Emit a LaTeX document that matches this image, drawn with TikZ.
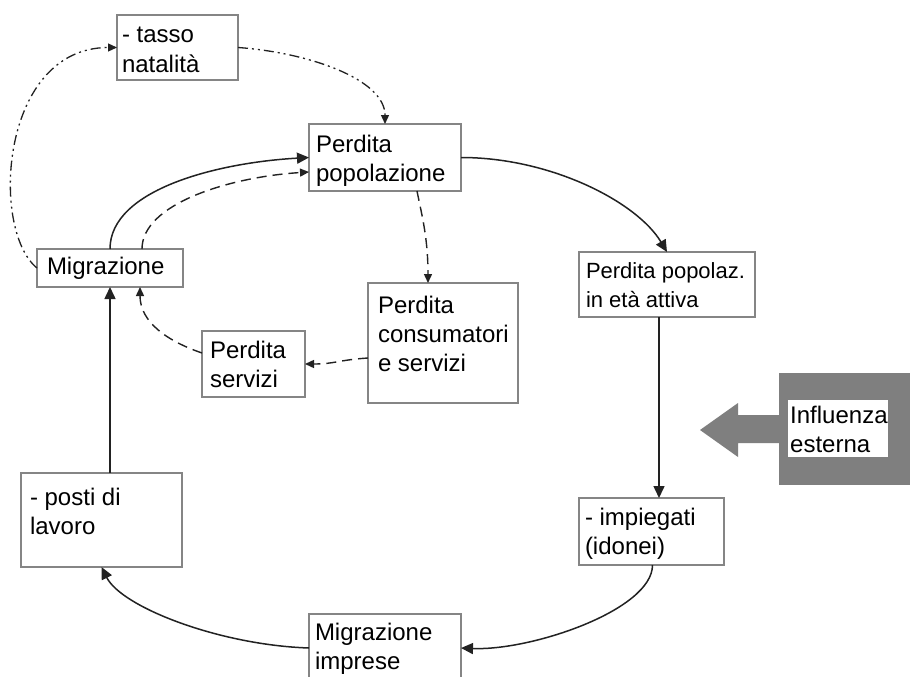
\documentclass[tikz,border=0pt]{standalone}
\usepackage{fontspec}
\setmainfont{Liberation Sans}
\usetikzlibrary{arrows.meta}
\definecolor{boxgray}{HTML}{858585}
\definecolor{linek}{HTML}{222222}
\definecolor{infgray}{HTML}{7F7F7F}
% #1 name, #2 x, #3 y, #4 w, #5 h, #6 left pad, #7 first baseline, #8 font size, #9 text
\newcommand\bx[9]{\node[box, minimum width=#4pt, minimum height=#5pt] (#1) at (#2,#3)
  {\parbox[t][#5pt][t]{#4pt}{\fontsize{#8}{29}\selectfont\raggedright\leftskip=#6pt\rule{0pt}{#7pt}#9}};}
\begin{document}
\begin{tikzpicture}[x=1pt,y=-1pt,
  box/.style={draw=boxgray,line width=1.3pt,inner sep=0pt,outer sep=0pt,anchor=north west,fill=white},
  conn/.style={draw=linek,line width=1.5pt,-{Triangle[length=12pt,width=11pt]}},
  dashconn/.style={draw=linek,line width=1.4pt,dash pattern=on 10pt off 6pt,-{Triangle[length=9pt,width=8pt]}},
  dotconn/.style={draw=linek,line width=1.3pt,dash pattern=on 10pt off 4pt on 2pt off 4pt on 2pt off 4pt,-{Triangle[length=9pt,width=8pt]}}]
\useasboundingbox (0,0) rectangle (910,677);
\fill[white] (0,0) rectangle (910,677);

\bx{tas}{117}{15}{121}{65}{5}{28}{24}{- tasso\\natalità}
\bx{pp}{309}{124}{152}{67}{7}{28}{24}{Perdita\\popolazione}
\bx{mig}{37}{249}{146}{38}{10}{25}{24}{Migrazione}
\bx{att}{579}{252}{176}{65}{7}{26}{22}{Perdita popolaz.\\in età attiva}
\bx{cons}{368}{283}{150}{120}{10}{30}{24}{Perdita\\consumatori\\e servizi}
\bx{serv}{202}{331}{103}{66}{8}{27}{24}{Perdita\\servizi}
\bx{posti}{21}{473}{161}{94}{9}{32}{24}{- posti di\\lavoro}
\bx{imp}{579}{498}{145}{67}{6}{27}{24}{- impiegati\\(idonei)}
\bx{mimp}{309}{614}{152}{68}{6}{26}{24}{Migrazione\\imprese}

% external influence
\node[fill=infgray,inner sep=0pt,anchor=north west,minimum width=140pt,minimum height=112pt] (inflbg) at (779,373) {};
\node[fill=white,inner sep=0pt,anchor=north west,minimum width=100pt,minimum height=57pt] (infl) at (788,400)
  {\parbox[t][57pt][t]{100pt}{\fontsize{24}{29}\selectfont\raggedright\leftskip=2pt\rule{0pt}{23pt}Influenza\\esterna}};
\fill[infgray] (700,430) -- (738,403) -- (738,415) -- (780,415) -- (780,443) -- (738,443) -- (738,457) -- cycle;

% main cycle
\draw[conn] (pp.east) .. controls +(90,0) and +(-30,-50) .. (att.north);
\draw[conn] ([xshift=-8pt]att.south) -- ([xshift=-8pt]att.south |- imp.north);
\draw[conn] ([xshift=1pt]imp.south) .. controls +(0,45) and +(70,3) .. (mimp.east);
\draw[conn] (mimp.west) .. controls +(-90,-3) and +(20,40) .. (posti.south);
\draw[conn] (mig.south |- posti.north) -- (mig.south);
\draw[conn] (mig.north) .. controls +(0,-60) and +(-90,5) .. (pp.west);

% dashed loop
\draw[dashconn] ([xshift=32pt]mig.north) .. controls +(0,-45) and +(-80,5) .. ([yshift=-14.5pt]pp.west);
\draw[dashconn] ([xshift=32pt]pp.south) .. controls +(5,25) and +(0,-45) .. ([xshift=-15pt]cons.north);
\draw[dashconn] ([yshift=-15pt]cons.west) .. controls +(-30,2) and +(30,0) .. (serv.east);
\draw[dashconn] ([yshift=11pt]serv.west) .. controls +(-35,-12) and +(0,35) .. ([xshift=30pt]mig.south);

% dash-dot loop
\draw[dotconn] (mig.west) .. controls +(-47,-38) and +(-117,0) .. (tas.west);
\draw[dotconn] (tas.east) .. controls +(70,5) and +(0,-45) .. (pp.north);
\end{tikzpicture}
\end{document}
